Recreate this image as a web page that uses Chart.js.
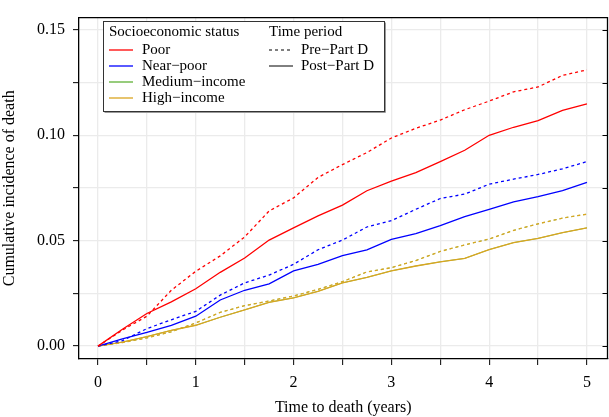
<!DOCTYPE html>
<html>
<head>
<meta charset="utf-8">
<script src="https://cdn.jsdelivr.net/npm/chart.js@4/dist/chart.umd.min.js"></script>
<style>
  html, body { margin: 0; padding: 0; background: #fff; }
  #wrap { width: 609px; height: 417px; }
</style>
</head>
<body>
<div id="wrap"><canvas id="kmChart" width="609" height="417"></canvas></div>
<script>
// time points (years) and cumulative incidence
var years = [0, 0.25, 0.5, 0.75, 1, 1.25, 1.5, 1.75, 2, 2.25, 2.5, 2.75, 3, 3.25, 3.5, 3.75, 4, 4.25, 4.5, 4.75, 5];

var poorPre   = [0, 0.0076, 0.0142, 0.0265, 0.0355, 0.0428, 0.0518, 0.0641, 0.0703, 0.0800, 0.0861, 0.0918, 0.0987, 0.1033, 0.1072, 0.1121, 0.1162, 0.1206, 0.1229, 0.1284, 0.1310];
var poorPost  = [0, 0.0080, 0.0155, 0.0210, 0.0272, 0.0350, 0.0418, 0.0503, 0.0561, 0.0618, 0.0669, 0.0737, 0.0783, 0.0823, 0.0875, 0.0929, 0.1000, 0.1038, 0.1069, 0.1118, 0.1149];
var nearPre   = [0, 0.0026, 0.0083, 0.0125, 0.0165, 0.0242, 0.0300, 0.0337, 0.0388, 0.0457, 0.0503, 0.0565, 0.0595, 0.0649, 0.0700, 0.0721, 0.0768, 0.0792, 0.0814, 0.0841, 0.0875];
var nearPost  = [0, 0.0034, 0.0065, 0.0099, 0.0142, 0.0219, 0.0265, 0.0295, 0.0357, 0.0388, 0.0429, 0.0457, 0.0506, 0.0534, 0.0572, 0.0614, 0.0649, 0.0684, 0.0709, 0.0737, 0.0777];
var mediumPre = [0, 0.0017, 0.0039, 0.0068, 0.0110, 0.0160, 0.0192, 0.0214, 0.0238, 0.0269, 0.0306, 0.0352, 0.0372, 0.0406, 0.0449, 0.0480, 0.0508, 0.0549, 0.0580, 0.0607, 0.0626];
var mediumPost= [0, 0.0019, 0.0045, 0.0075, 0.0099, 0.0137, 0.0172, 0.0208, 0.0229, 0.0260, 0.0300, 0.0326, 0.0357, 0.0380, 0.0400, 0.0416, 0.0458, 0.0491, 0.0511, 0.0538, 0.0561];
var highPre   = [0, 0.0017, 0.0039, 0.0068, 0.0110, 0.0160, 0.0192, 0.0214, 0.0238, 0.0269, 0.0306, 0.0352, 0.0372, 0.0406, 0.0449, 0.0480, 0.0508, 0.0549, 0.0580, 0.0607, 0.0626];
var highPost  = [0, 0.0019, 0.0045, 0.0075, 0.0099, 0.0137, 0.0172, 0.0208, 0.0229, 0.0260, 0.0300, 0.0326, 0.0357, 0.0380, 0.0400, 0.0416, 0.0458, 0.0491, 0.0511, 0.0538, 0.0561];

var xTicks = [0, 0.5, 1, 1.5, 2, 2.5, 3, 3.5, 4, 4.5, 5];
var yTicks = [0, 0.025, 0.05, 0.075, 0.1, 0.125, 0.15];

var groupNames  = ['Poor', 'Near\u2212poor', 'Medium\u2212income', 'High\u2212income'];
var groupColors = ['#ff0000', '#0000ff', '#5fb135', '#daa520'];
var periodNames = ['Pre\u2212Part D', 'Post\u2212Part D'];

var serif = "'Liberation Serif', 'DejaVu Serif', serif";

function pts(vals) {
  return years.map(function (t, i) { return { x: t, y: vals[i] }; });
}

function line(label, vals, color, dashed, width) {
  return {
    label: label,
    data: pts(vals),
    borderColor: color,
    backgroundColor: color,
    borderWidth: width || 1.3,
    borderDash: dashed ? [3, 3] : [],
    pointRadius: 0,
    tension: 0,
    fill: false
  };
}

// frame, inward ticks on the right, and the two-part legend
var frameAndLegend = {
  id: 'frameAndLegend',
  afterDraw: function (chart) {
    var ctx = chart.ctx;
    var a = chart.chartArea;
    var ys = chart.scales.y;
    ctx.save();
    ctx.strokeStyle = '#000';
    ctx.lineWidth = 1.3;
    ctx.beginPath();
    ctx.moveTo(a.left, a.top); ctx.lineTo(a.right, a.top); ctx.lineTo(a.right, a.bottom);
    ctx.stroke();
    ctx.lineWidth = 1;
    yTicks.forEach(function (v) {
      var py = Math.round(ys.getPixelForValue(v)) + 0.5;
      ctx.beginPath(); ctx.moveTo(a.right, py); ctx.lineTo(a.right - 5, py); ctx.stroke();
    });

    // legend box
    var bx = 103.5, by = 21.5, bw = 281, bh = 90;
    ctx.fillStyle = '#fff';
    ctx.fillRect(bx, by, bw, bh);
    ctx.strokeStyle = '#333';
    ctx.lineWidth = 1;
    ctx.strokeRect(bx, by, bw, bh);
    ctx.strokeStyle = '#999';
    ctx.beginPath(); ctx.moveTo(bx + 1, by + bh + 1); ctx.lineTo(bx + bw + 1, by + bh + 1); ctx.lineTo(bx + bw + 1, by + 1); ctx.stroke();

    ctx.font = '15px ' + serif;
    ctx.textBaseline = 'middle';
    ctx.textAlign = 'left';
    ctx.fillStyle = '#000';
    ctx.fillText('Socioeconomic status', 109, 32);
    ctx.fillText('Time period', 269, 32);

    groupNames.forEach(function (name, i) {
      var ry = 50 + i * 16;
      ctx.strokeStyle = groupColors[i];
      ctx.lineWidth = 1.3;
      ctx.setLineDash([]);
      ctx.beginPath(); ctx.moveTo(109, ry); ctx.lineTo(133, ry); ctx.stroke();
      ctx.fillText(name, 142, ry);
    });
    periodNames.forEach(function (name, i) {
      var ry = 50 + i * 16;
      ctx.strokeStyle = '#000';
      ctx.lineWidth = 1;
      ctx.setLineDash(i === 0 ? [3, 3] : []);
      ctx.beginPath(); ctx.moveTo(269, ry); ctx.lineTo(293, ry); ctx.stroke();
      ctx.fillText(name, 301, ry);
    });
    ctx.restore();
  }
};

// first dataset is drawn on top, so medium-income goes last (hidden under high-income)
var ctx = document.getElementById('kmChart');
var kmChart = new Chart(ctx, {
  type: 'line',
  data: {
    datasets: [
      line('Poor, Pre-Part D', poorPre, groupColors[0], true),
      line('Poor, Post-Part D', poorPost, groupColors[0], false),
      line('Near-poor, Pre-Part D', nearPre, groupColors[1], true),
      line('Near-poor, Post-Part D', nearPost, groupColors[1], false),
      line('High-income, Pre-Part D', highPre, groupColors[3], true),
      line('High-income, Post-Part D', highPost, groupColors[3], false),
      line('Medium-income, Pre-Part D', mediumPre, groupColors[2], true, 0.8),
      line('Medium-income, Post-Part D', mediumPost, groupColors[2], false, 0.8)
    ]
  },
  options: {
    responsive: false,
    devicePixelRatio: 1,
    animation: false,
    layout: { padding: { top: 8, right: 1.5, left: 0, bottom: 0 } },
    plugins: { legend: { display: false }, tooltip: { enabled: false } },
    scales: {
      x: {
        type: 'linear',
        min: -0.194,
        max: 5.21,
        afterBuildTicks: function (s) { s.ticks = xTicks.map(function (v) { return { value: v }; }); },
        afterFit: function (s) { s.height = 58; },
        ticks: {
          autoSkip: false, maxRotation: 0, padding: 8, color: '#000',
          font: { family: serif, size: 16 },
          callback: function (v) { return Number.isInteger(v) ? String(v) : ''; }
        },
        grid: { color: '#ebebeb', lineWidth: 1.3, tickColor: '#000', tickLength: 6, tickWidth: 1 },
        border: { display: true, color: '#000', width: 1.3 },
        title: { display: true, text: 'Time to death (years)', color: '#000', font: { family: serif, size: 16 }, padding: { top: 0, bottom: 0 } }
      },
      y: {
        type: 'linear',
        min: -0.0061,
        max: 0.1558,
        afterBuildTicks: function (s) { s.ticks = yTicks.map(function (v) { return { value: v }; }); },
        afterFit: function (s) { s.width = 79; },
        ticks: {
          autoSkip: false, padding: 8, color: '#000',
          font: { family: serif, size: 16 },
          callback: function (v) { return Math.abs(v * 20 - Math.round(v * 20)) < 1e-9 ? v.toFixed(2) : ''; }
        },
        grid: { color: '#ebebeb', lineWidth: 1.3, tickColor: '#000', tickLength: 6, tickWidth: 1 },
        border: { display: true, color: '#000', width: 1.3 },
        title: { display: true, text: 'Cumulative incidence of death', color: '#000', font: { family: serif, size: 16 }, padding: { top: 0, bottom: 7 } }
      }
    }
  },
  plugins: [frameAndLegend]
});
</script>
</body>
</html>
